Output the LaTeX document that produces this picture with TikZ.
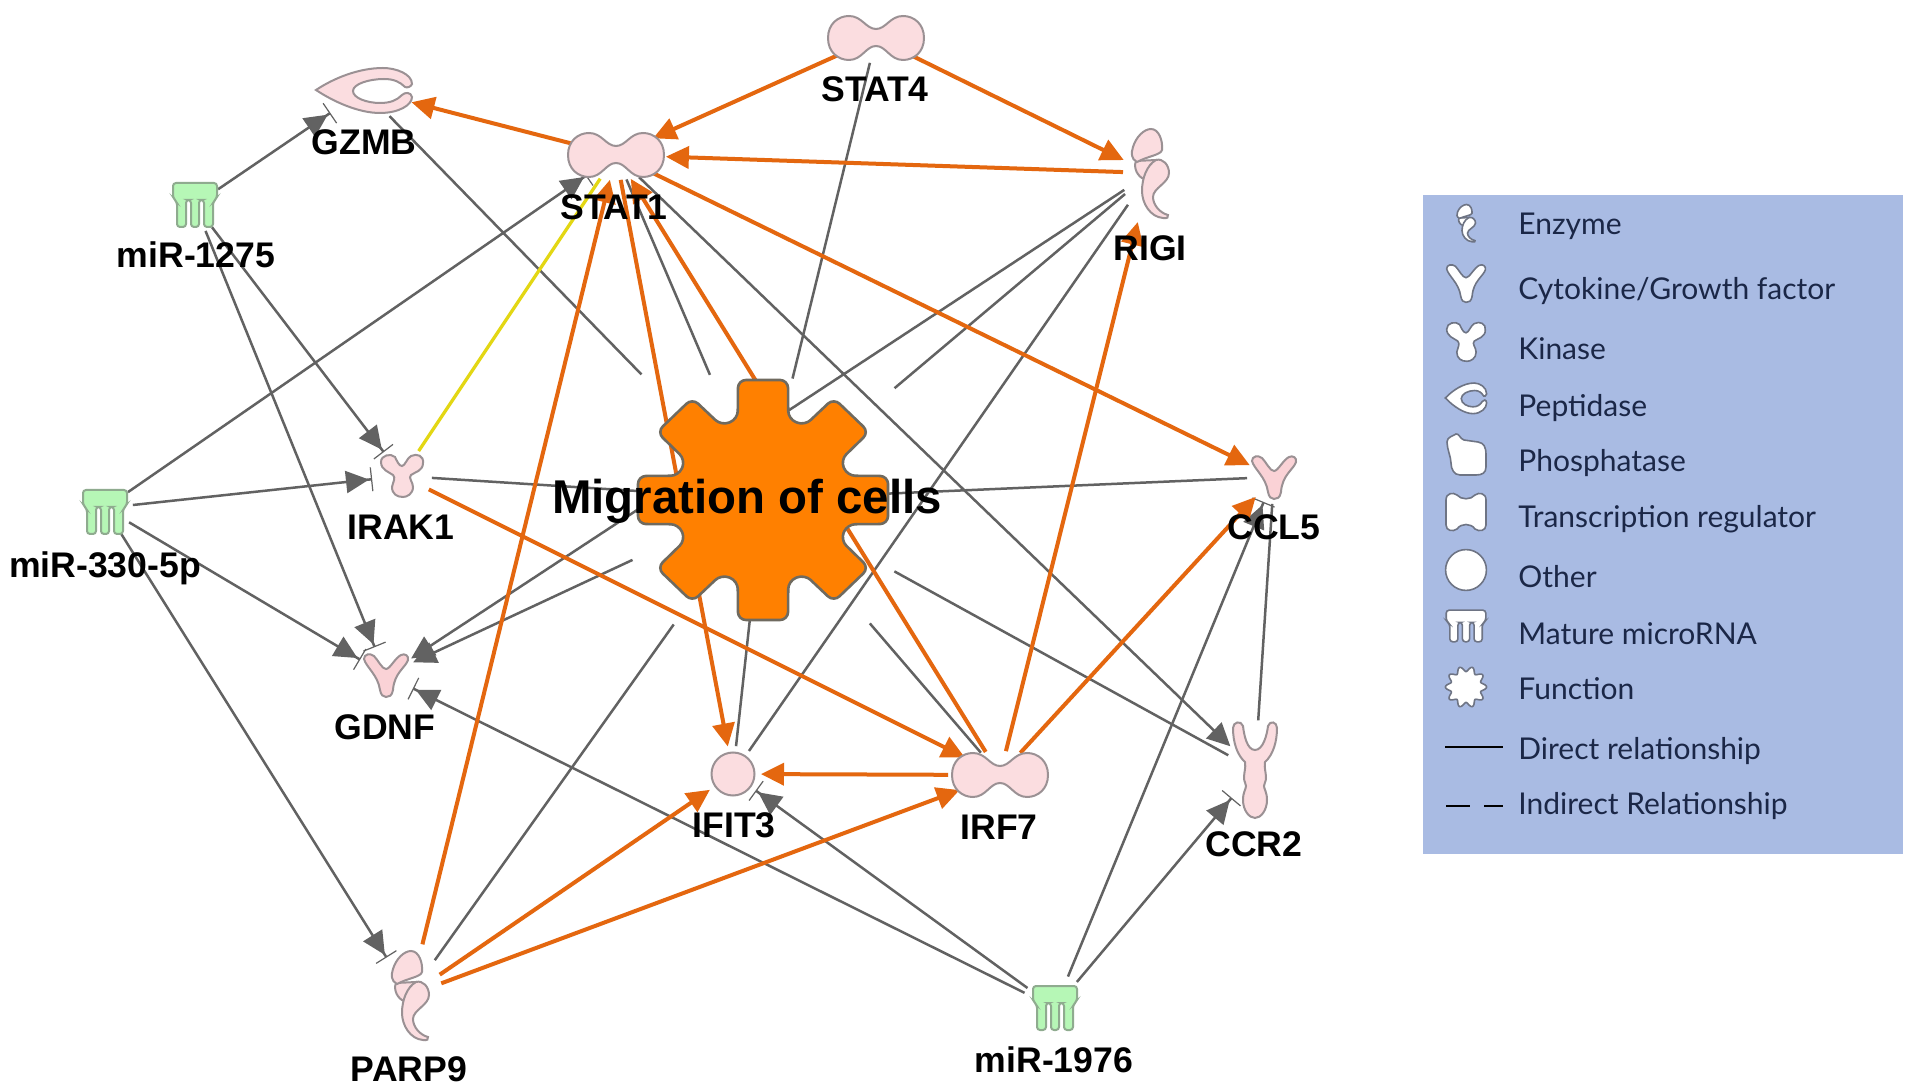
\documentclass[tikz,border=0pt]{standalone}
\usepackage{fontspec}
\setmainfont{Liberation Sans}
\newfontfamily\legfont{Lato}
\usetikzlibrary{arrows.meta,shapes.geometric}
\definecolor{orangeline}{HTML}{E4670F}
\definecolor{grayline}{HTML}{626262}
\definecolor{yellowline}{HTML}{E3D714}
\definecolor{gearfill}{HTML}{FF8000}
\definecolor{geardraw}{HTML}{6F6A5F}
\definecolor{pinkfill}{HTML}{FBDDE0}
\definecolor{pinkdraw}{HTML}{9B9194}
\definecolor{corefill}{HTML}{F9C9CE}
\definecolor{greenfill}{HTML}{B6F7B6}
\definecolor{greendraw}{HTML}{8FAB8F}
\definecolor{legendbg}{HTML}{A9BBE3}
\definecolor{legendtext}{HTML}{1B2747}
\definecolor{legenddraw}{HTML}{6E7484}
\tikzset{
  hub/.style 2 args={ellipse,draw=none,inner sep=0pt,outer sep=0pt,minimum width=#1pt,minimum height=#2pt},
  lab/.style={font=\bfseries\fontsize{17.8}{18}\selectfont,text=black,inner sep=0pt},
  leglab/.style={font=\legfont\fontsize{15}{15}\selectfont,text=legendtext,inner sep=0pt,anchor=west},
  ol/.style={draw=orangeline,line width=2pt},
  oa/.style={ol,-{Triangle[length=11.5pt,width=11pt]}},
  yl/.style={draw=yellowline,line width=1.6pt},
  gl/.style={draw=grayline,line width=1.25pt},
  ga/.style={gl,-{Triangle[length=11.5pt,width=11pt]}},
  gb/.style={gl,-{Triangle[length=11.5pt,width=11pt,sep=1pt]Bar[width=12pt,line width=.6pt]}},
  iconstyle/.style={fill=pinkfill,draw=pinkdraw,line width=1pt},
  tf/.pic={\path[iconstyle] (-48,0) .. controls (-48,-14) and (-38,-22) .. (-27,-22) .. controls (-14,-22) and (-10,-9) .. (0,-9) .. controls (10,-9) and (14,-22) .. (27,-22) .. controls (38,-22) and (48,-14) .. (48,0) .. controls (48,14) and (38,22) .. (27,22) .. controls (14,22) and (10,8) .. (0,8) .. controls (-10,8) and (-14,22) .. (-27,22) .. controls (-38,22) and (-48,14) .. (-48,0) -- cycle;},
  tfleg/.pic={\path[iconstyle] (-20,-12) .. controls (-20,-19) and (-13,-20) .. (-9,-17) .. controls (-5,-12) and (5,-12) .. (9,-17) .. controls (13,-20) and (20,-19) .. (20,-12) -- (20,13) .. controls (20,19) and (13,20) .. (9,17) .. controls (5,11) and (-5,11) .. (-9,17) .. controls (-13,20) and (-20,19) .. (-20,13) -- cycle;},
  peptidase/.pic={\path[iconstyle] (-48,0) .. controls (-30,-12) and (-5,-22) .. (19,-22) .. controls (32,-22) and (48,-16) .. (48,-6) .. controls (47,-3) and (43,-2) .. (41,-3) .. controls (36,-8) and (30,-11) .. (20,-11) .. controls (5,-11) and (-11,-6) .. (-11,1) .. controls (-11,8) and (3,13) .. (16,13) .. controls (27,13) and (33,10) .. (38,5) .. controls (41,2) and (47,2) .. (48,7) .. controls (48,15) and (35,23) .. (16,23) .. controls (-5,23) and (-30,12) .. (-48,0) -- cycle;},
  enzyme/.pic={
    \path[iconstyle] (-14,-12) .. controls (-17,-5) and (-12,4) .. (-6,6) -- (6,2) -- (6,-13) -- cycle;
    \path[iconstyle] (1,-44) .. controls (9,-44) and (13,-32) .. (12,-23) .. controls (11,-18) and (-2,-17) .. (-13,-11) .. controls (-19,-14) and (-19,-20) .. (-17,-26) .. controls (-14,-36) and (-6,-44) .. (1,-44) -- cycle;
    \path[iconstyle] (6,-13) .. controls (13,-15) and (19,-8) .. (19,0) .. controls (19,10) and (3,15) .. (3,24) .. controls (3,32) and (10,40) .. (18,42) .. controls (19,44) and (17,46) .. (13,45) .. controls (0,44) and (-8,30) .. (-8,18) .. controls (-8,5) and (-3,-8) .. (6,-13) -- cycle;},
  cytokine/.pic={\path[iconstyle] (-22,-16) .. controls (-22,-21) and (-16,-22) .. (-12,-19) .. controls (-8,-15) and (-4,-6) .. (0,-6) .. controls (4,-6) and (9,-17) .. (15,-20) .. controls (19,-22) and (23,-19) .. (22,-15) .. controls (20,-8) and (8,-2) .. (7,15) .. controls (6,21) and (3,22) .. (0,22) .. controls (-3,22) and (-5,20) .. (-6,15) .. controls (-8,0) and (-20,-8) .. (-22,-16) -- cycle;},
  receptor/.pic={\path[iconstyle] (-22,-42) .. controls (-22,-48) and (-14,-50) .. (-12,-44) .. controls (-11,-35) and (-8,-20) .. (0,-20) .. controls (8,-20) and (12,-35) .. (13,-44) .. controls (15,-50) and (22,-48) .. (22,-42) .. controls (22,-28) and (18,-15) .. (10,-8) .. controls (9,-2) and (11,2) .. (11,8) .. controls (11,12) and (9,13) .. (9,16) .. controls (9,19) and (12,22) .. (12,30) .. controls (12,40) and (6,48) .. (0,48) .. controls (-6,48) and (-12,40) .. (-12,30) .. controls (-12,22) and (-9,19) .. (-9,16) .. controls (-9,13) and (-11,12) .. (-11,8) .. controls (-11,2) and (-9,-2) .. (-10,-8) .. controls (-18,-15) and (-22,-28) .. (-22,-42) -- cycle;},
  kinase/.pic={\path[iconstyle] (-21,-14) .. controls (-21,-21) and (-11,-23) .. (-7,-19) .. controls (-5,-15) and (-3,-10) .. (0,-10) .. controls (3,-10) and (5,-18) .. (9,-20) .. controls (15,-23) and (22,-20) .. (21,-13) .. controls (21,-5) and (13,-4) .. (9,-1) .. controls (6,2) and (11,6) .. (11,11) .. controls (11,18) and (5,21) .. (1,21) .. controls (-5,21) and (-10,18) .. (-10,11) .. controls (-9,6) and (-6,2) .. (-9,-1) .. controls (-13,-4) and (-21,-6) .. (-21,-14) -- cycle;},
  otherprot/.pic={\path[iconstyle] (0,0) circle[x radius=21.5,y radius=21.5];},
  mirna/.pic={\path[iconstyle,rounded corners=1.5pt] (-22,-22) -- (22,-22) -- (22,-7) -- (18,-3) -- (18,22) -- (9,22) -- (9,-5) -- (4,-5) -- (4,22) -- (-4,22) -- (-4,-5) -- (-9,-5) -- (-9,22) -- (-18,22) -- (-18,-3) -- (-22,-7) -- cycle;},
  phosphatase/.pic={\path[iconstyle] (-19,-13) .. controls (-19,-18) and (-13,-19) .. (-10,-21) .. controls (-7,-22) and (-6,-16) .. (-2,-15) -- (12,-13) .. controls (18,-12) and (20,-8) .. (20,0) -- (20,12) .. controls (20,18) and (16,20) .. (10,20) -- (-6,20) .. controls (-12,20) and (-15,14) .. (-15,8) .. controls (-15,2) and (-19,-6) .. (-19,-13) -- cycle;},
  funcicon/.pic={\path[iconstyle] plot[smooth cycle,samples=120,domain=0:357] (\x:{18+2.6*cos(10*\x)});},
  geardraw/.pic={\path[fill=gearfill,draw=geardraw,line width=1.3pt,rounded corners=4pt]
     (28.3:88) -- (33.7:127.5) -- (56.3:127.5) -- (61.7:88)
     -- (73.3:88) -- (78.7:127.5) -- (101.3:127.5) -- (106.7:88)
     -- (118.3:88) -- (123.7:127.5) -- (146.3:127.5) -- (151.7:88)
     -- (163.3:88) -- (168.7:127.5) -- (191.3:127.5) -- (196.7:88)
     -- (208.3:88) -- (213.7:127.5) -- (236.3:127.5) -- (241.7:88)
     -- (253.3:88) -- (258.7:127.5) -- (281.3:127.5) -- (286.7:88)
     -- (298.3:88) -- (303.7:127.5) -- (326.3:127.5) -- (331.7:88)
     -- (343.3:88) -- (348.7:127.5) -- (371.3:127.5) -- (376.7:88) -- cycle;}
}
\begin{document}
\begin{tikzpicture}[x=0.5pt,y=-0.5pt]
\path[fill=white] (0,0) rectangle (1913,1090);
\useasboundingbox (0,0) rectangle (1913,1090);

% hubs
\node[hub={52}{30}] (gzmb) at (364,90) {};
\node[hub={50}{25}] (stat1) at (616,155) {};
\node[hub={50}{25}] (stat4) at (876,38) {};
\node[hub={27}{55}] (rigi) at (1150,173) {};
\node[hub={28}{28}] (m1275) at (195,205) {};
\node[hub={28}{28}] (m330) at (105,508) {};
\node[hub={30}{30}] (irak1) at (402,476) {};
\node[hub={30}{30}] (gdnf) at (386,675) {};
\node[hub={27}{27}] (ccl5) at (1274,477) {};
\node[hub={28}{50}] (ccr2) at (1255,770) {};
\node[hub={28}{28}] (ifit3) at (733,774) {};
\node[hub={52}{24}] (irf7) at (1000,775) {};
\node[hub={32}{55}] (parp9) at (410,995) {};
\node[hub={34}{34}] (m1976) at (1055,1008) {};
\node[hub={118}{118}] (gear) at (763,499) {};

% plain grey edges
\draw[gl,shorten >=28pt] (gzmb) -- (gear);
\draw[gl,shorten >=8.5pt] (stat1) -- (gear);
\draw[gl,shorten >=3pt] (stat4) -- (gear);
\draw[gl,shorten >=27pt] (rigi) -- (gear);
\draw[gl] (ifit3) -- (gear);
\draw[gl] (irak1) -- (gear);
\draw[gl] (ccl5) -- (gear);
\draw[gl,shorten >=18pt] (parp9) -- (gear);
\draw[gl,shorten >=23pt] (irf7) -- (gear);
\draw[gl,shorten <=16pt] (gear) -- (ccr2);
\draw[gl] (ifit3) -- (rigi);
\draw[gl] (ccl5) -- (ccr2);
% grey arrows
\draw[ga] (stat1) -- (ccr2);
\draw[ga] (rigi) -- (gdnf);
\draw[ga,shorten <=13pt] (gear) -- (gdnf);
\draw[gb] (m1275) -- (gzmb);
\draw[gb] (m1275) -- (irak1);
\draw[gb] (m1275) -- (gdnf);
\draw[gb] (m330) -- (stat1);
\draw[gb] (m330) -- (irak1);
\draw[gb] (m330) -- (gdnf);
\draw[gb] (m330) -- (parp9);
\draw[gb] (m1976) -- (gdnf);
\draw[gb] (m1976) -- (ifit3);
\draw[gb] (m1976) -- (ccr2);
\draw[gb] (m1976) -- (ccl5);
% yellow
\draw[yl] (irak1) -- (stat1);
% orange
\draw[oa] (stat4) -- (stat1);
\draw[oa] (stat4) -- (rigi);
\draw[oa] (rigi) -- (stat1);
\draw[oa] (stat1) -- (gzmb);
\draw[oa] (stat1) -- (ccl5);
\draw[oa] (stat1) -- (ifit3);
\draw[oa] (irf7) -- (stat1);
\draw[oa] (parp9) -- (stat1);
\draw[oa] (irak1) -- (irf7);
\draw[oa] (parp9) -- (ifit3);
\draw[oa] (parp9) -- (irf7);
\draw[oa] (irf7) -- (ifit3);
\draw[oa] (irf7) -- (rigi);
\draw[oa] (irf7) -- (ccl5);

% icons
\pic[yscale=.96] at (763,500) {geardraw};
\pic at (364,90) {peptidase};
\pic at (616,155) {tf};
\pic at (876,38) {tf};
\pic at (1000,775) {tf};
\pic at (1150,173) {enzyme};
\pic at (410,995) {enzyme};
\pic at (402,476) {kinase};
\pic at (733,774) {otherprot};
\pic at (1255,770) {receptor};
\begin{scope}[iconstyle/.style={fill=corefill!55!pinkfill,draw=pinkdraw,line width=1pt}]
\pic at (386,675) {cytokine};
\pic at (1274,477) {cytokine};
\end{scope}
\begin{scope}[iconstyle/.style={fill=greenfill,draw=greendraw,line width=1pt}]
\pic at (195,205) {mirna};
\pic at (105,512) {mirna};
\pic at (1055,1008) {mirna};
\end{scope}

% labels
\node[lab] (lgzmb) at (364,142) {GZMB};
\node[lab] (lstat1) at (614,207) {STAT1};
\node[lab] (lstat4) at (875,89) {STAT4};
\node[lab] (lrigi) at (1150,248) {RIGI};
\node[lab] (lm1275) at (196,255) {miR-1275};
\node[lab] (lm330) at (105,568) {miR-330-5p};
\node[lab] (lirak1) at (401,527) {IRAK1};
\node[lab] (lgdnf) at (385,727) {GDNF};
\node[lab] (lccl5) at (1274,527) {CCL5};
\node[lab] (lccr2) at (1254,844) {CCR2};
\node[lab] (lifit3) at (734,825) {IFIT3};
\node[lab] (lirf7) at (999,827) {IRF7};
\node[lab] (lparp9) at (409,1069) {PARP9};
\node[lab] (lm1976) at (1054,1060) {miR-1976};
\node[lab,font=\bfseries\fontsize{23.7}{24}\selectfont] (lgear) at (747,501) {Migration of cells};

% legend
\node[draw=none,fill=legendbg,inner sep=0pt,minimum width=240pt,minimum height=329.5pt] (legendbox) at (1663,524.5) {};
\begin{scope}[iconstyle/.style={fill=white,draw=legenddraw,line width=.8pt}]
\pic[xscale=.5,yscale=.42] at (1466,223) {enzyme};
\pic[scale=.88] at (1466,283) {cytokine};
\pic[scale=.92] at (1466,342) {kinase};
\pic[xscale=.43,yscale=.68] at (1466,398) {peptidase};
\pic at (1466,455) {phosphatase};
\pic at (1466,512) {tfleg};
\pic[scale=.95] at (1466,570) {otherprot};
\pic[xscale=.9,yscale=.72] at (1466,626) {mirna};
\pic at (1466,687) {funcicon};
\end{scope}
\node[leglab] (t1) at (1518,226) {Enzyme};
\node[leglab] (t2) at (1518,291) {Cytokine/Growth factor};
\node[leglab] (t3) at (1518,349) {Kinase};
\node[leglab] (t4) at (1518,408) {Peptidase};
\node[leglab] (t5) at (1518,463) {Phosphatase};
\node[leglab] (t6) at (1518,519) {Transcription regulator};
\node[leglab] (t7) at (1518,577) {Other};
\node[leglab] (t8) at (1518,634) {Mature microRNA};
\node[leglab] (t9) at (1518,689) {Function};
\node[leglab] (t10) at (1518,751) {Direct relationship};
\node[leglab] (t11) at (1518,806) {Indirect Relationship};
\coordinate (d1) at (1445,747);
\coordinate (d2) at (1503,747);
\coordinate (i1) at (1446,806);
\coordinate (i2) at (1503,806);
\draw[black,line width=1.3pt] (d1) -- (d2);
\draw[black,line width=1.3pt,dash pattern=on 12pt off 7pt] (i1) -- (i2);
\end{tikzpicture}
\end{document}
